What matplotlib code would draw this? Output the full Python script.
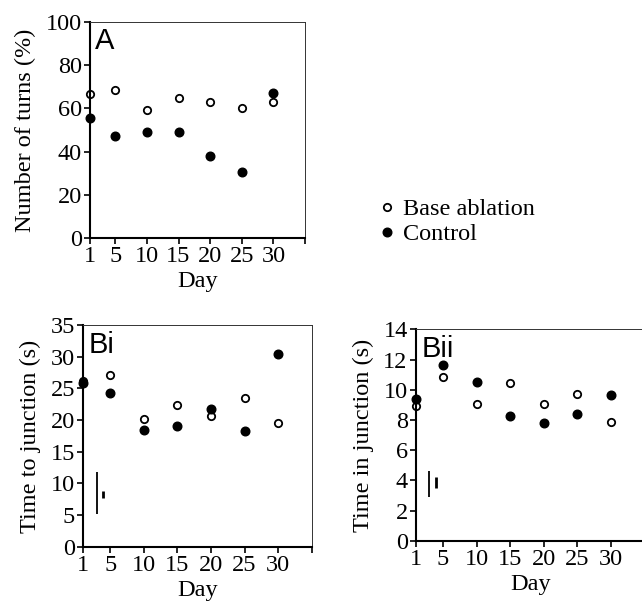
#!/usr/bin/env python3
"""Turning behaviour and junction timing across training days."""
import matplotlib
matplotlib.use("Agg")
import matplotlib.pyplot as plt
from matplotlib.lines import Line2D

DAYS = [1, 5, 10, 15, 20, 25, 30]

TURNS_ABLATION = [66.5, 68.5, 59.3, 64.7, 62.8, 60.0, 63.0]
TURNS_CONTROL = [55.5, 47.0, 49.0, 49.0, 37.8, 30.4, 67.0]

TO_JUNCTION_ABLATION = [26.1, 27.1, 20.1, 22.3, 20.6, 23.5, 19.5]
TO_JUNCTION_CONTROL = [25.8, 24.2, 18.4, 19.1, 21.7, 18.2, 30.5]
TO_JUNCTION_ERR = [(3, 5.2, 11.75), (4, 7.65, 8.85)]

IN_JUNCTION_ABLATION = [8.93, 10.83, 9.08, 10.43, 9.08, 9.74, 7.89]
IN_JUNCTION_CONTROL = [9.37, 11.64, 10.54, 8.29, 7.78, 8.42, 9.63]
IN_JUNCTION_ERR = [(3, 2.93, 4.65), (4, 3.49, 4.25)]

SERIF = "Liberation Serif"
SANS = "Liberation Sans"
FS = 17.5


def style(axis, ylim, yticks, ylabel, tag):
    axis.set_xlim(1, 35)
    axis.set_ylim(*ylim)
    axis.set_xticks(DAYS + [35])
    axis.set_xticklabels([str(d) for d in DAYS] + [""])
    axis.set_yticks(yticks)
    axis.set_yticklabels([str(t) for t in yticks])
    for side in ("left", "bottom"):
        axis.spines[side].set_linewidth(1.5)
    for side in ("top", "right"):
        axis.spines[side].set_linewidth(0.7)
        axis.spines[side].set_color("#333333")
    axis.tick_params(direction="out", length=4, width=1.2, pad=2,
                     labelsize=FS)
    for label in axis.get_xticklabels() + axis.get_yticklabels():
        label.set_family(SERIF)
    axis.set_xlabel("Day", family=SERIF, fontsize=FS, labelpad=3)
    axis.set_ylabel(ylabel, family=SERIF, fontsize=FS, labelpad=7)
    axis.text(0.025, 0.975, tag, transform=axis.transAxes, family=SANS,
              fontsize=21, va="top", ha="left")


def scatter(axis, ablation, control):
    axis.plot(DAYS, control, "o", color="black", markersize=6.2,
              clip_on=False, zorder=3)
    axis.plot(DAYS, ablation, "o", markerfacecolor="white",
              markeredgecolor="black", markeredgewidth=1.3, markersize=5.3,
              clip_on=False, zorder=2)


def errbars(axis, bars):
    for (x, lo, hi), width in zip(bars, (1.3, 2.0)):
        axis.plot([x, x], [lo, hi], color="black", linewidth=width,
                  solid_capstyle="butt")


fig = plt.figure(figsize=(6.42, 6.11), dpi=100)

ax_a = fig.add_axes([0.1402, 0.6105, 0.3349, 0.3535])
scatter(ax_a, TURNS_ABLATION, TURNS_CONTROL)
style(ax_a, (0, 100), [0, 20, 40, 60, 80, 100], "Number of turns (%)", "A")

ax_bi = fig.add_axes([0.1298, 0.1052, 0.3558, 0.3628])
scatter(ax_bi, TO_JUNCTION_ABLATION, TO_JUNCTION_CONTROL)
errbars(ax_bi, TO_JUNCTION_ERR)
style(ax_bi, (0, 35), [0, 5, 10, 15, 20, 25, 30, 35],
      "Time to junction (s)", "Bi")

ax_bii = fig.add_axes([0.648, 0.1146, 0.356, 0.3465])
scatter(ax_bii, IN_JUNCTION_ABLATION, IN_JUNCTION_CONTROL)
errbars(ax_bii, IN_JUNCTION_ERR)
style(ax_bii, (0, 14), [0, 2, 4, 6, 8, 10, 12, 14],
      "Time in junction (s)", "Bii")

handles = [
    Line2D([], [], marker="o", linestyle="none", markerfacecolor="white",
           markeredgecolor="black", markeredgewidth=1.3, markersize=5.3),
    Line2D([], [], marker="o", linestyle="none", color="black",
           markersize=6.2),
]
fig.legend(handles, ["Base ablation", "Control"], loc="upper left",
           bbox_to_anchor=(363 / 642, 1 - 186 / 611), frameon=False,
           prop={"family": SERIF, "size": FS}, handlelength=1.0,
           handletextpad=0.15, labelspacing=0.12, borderpad=0)

fig.savefig("out.png", dpi=100)
